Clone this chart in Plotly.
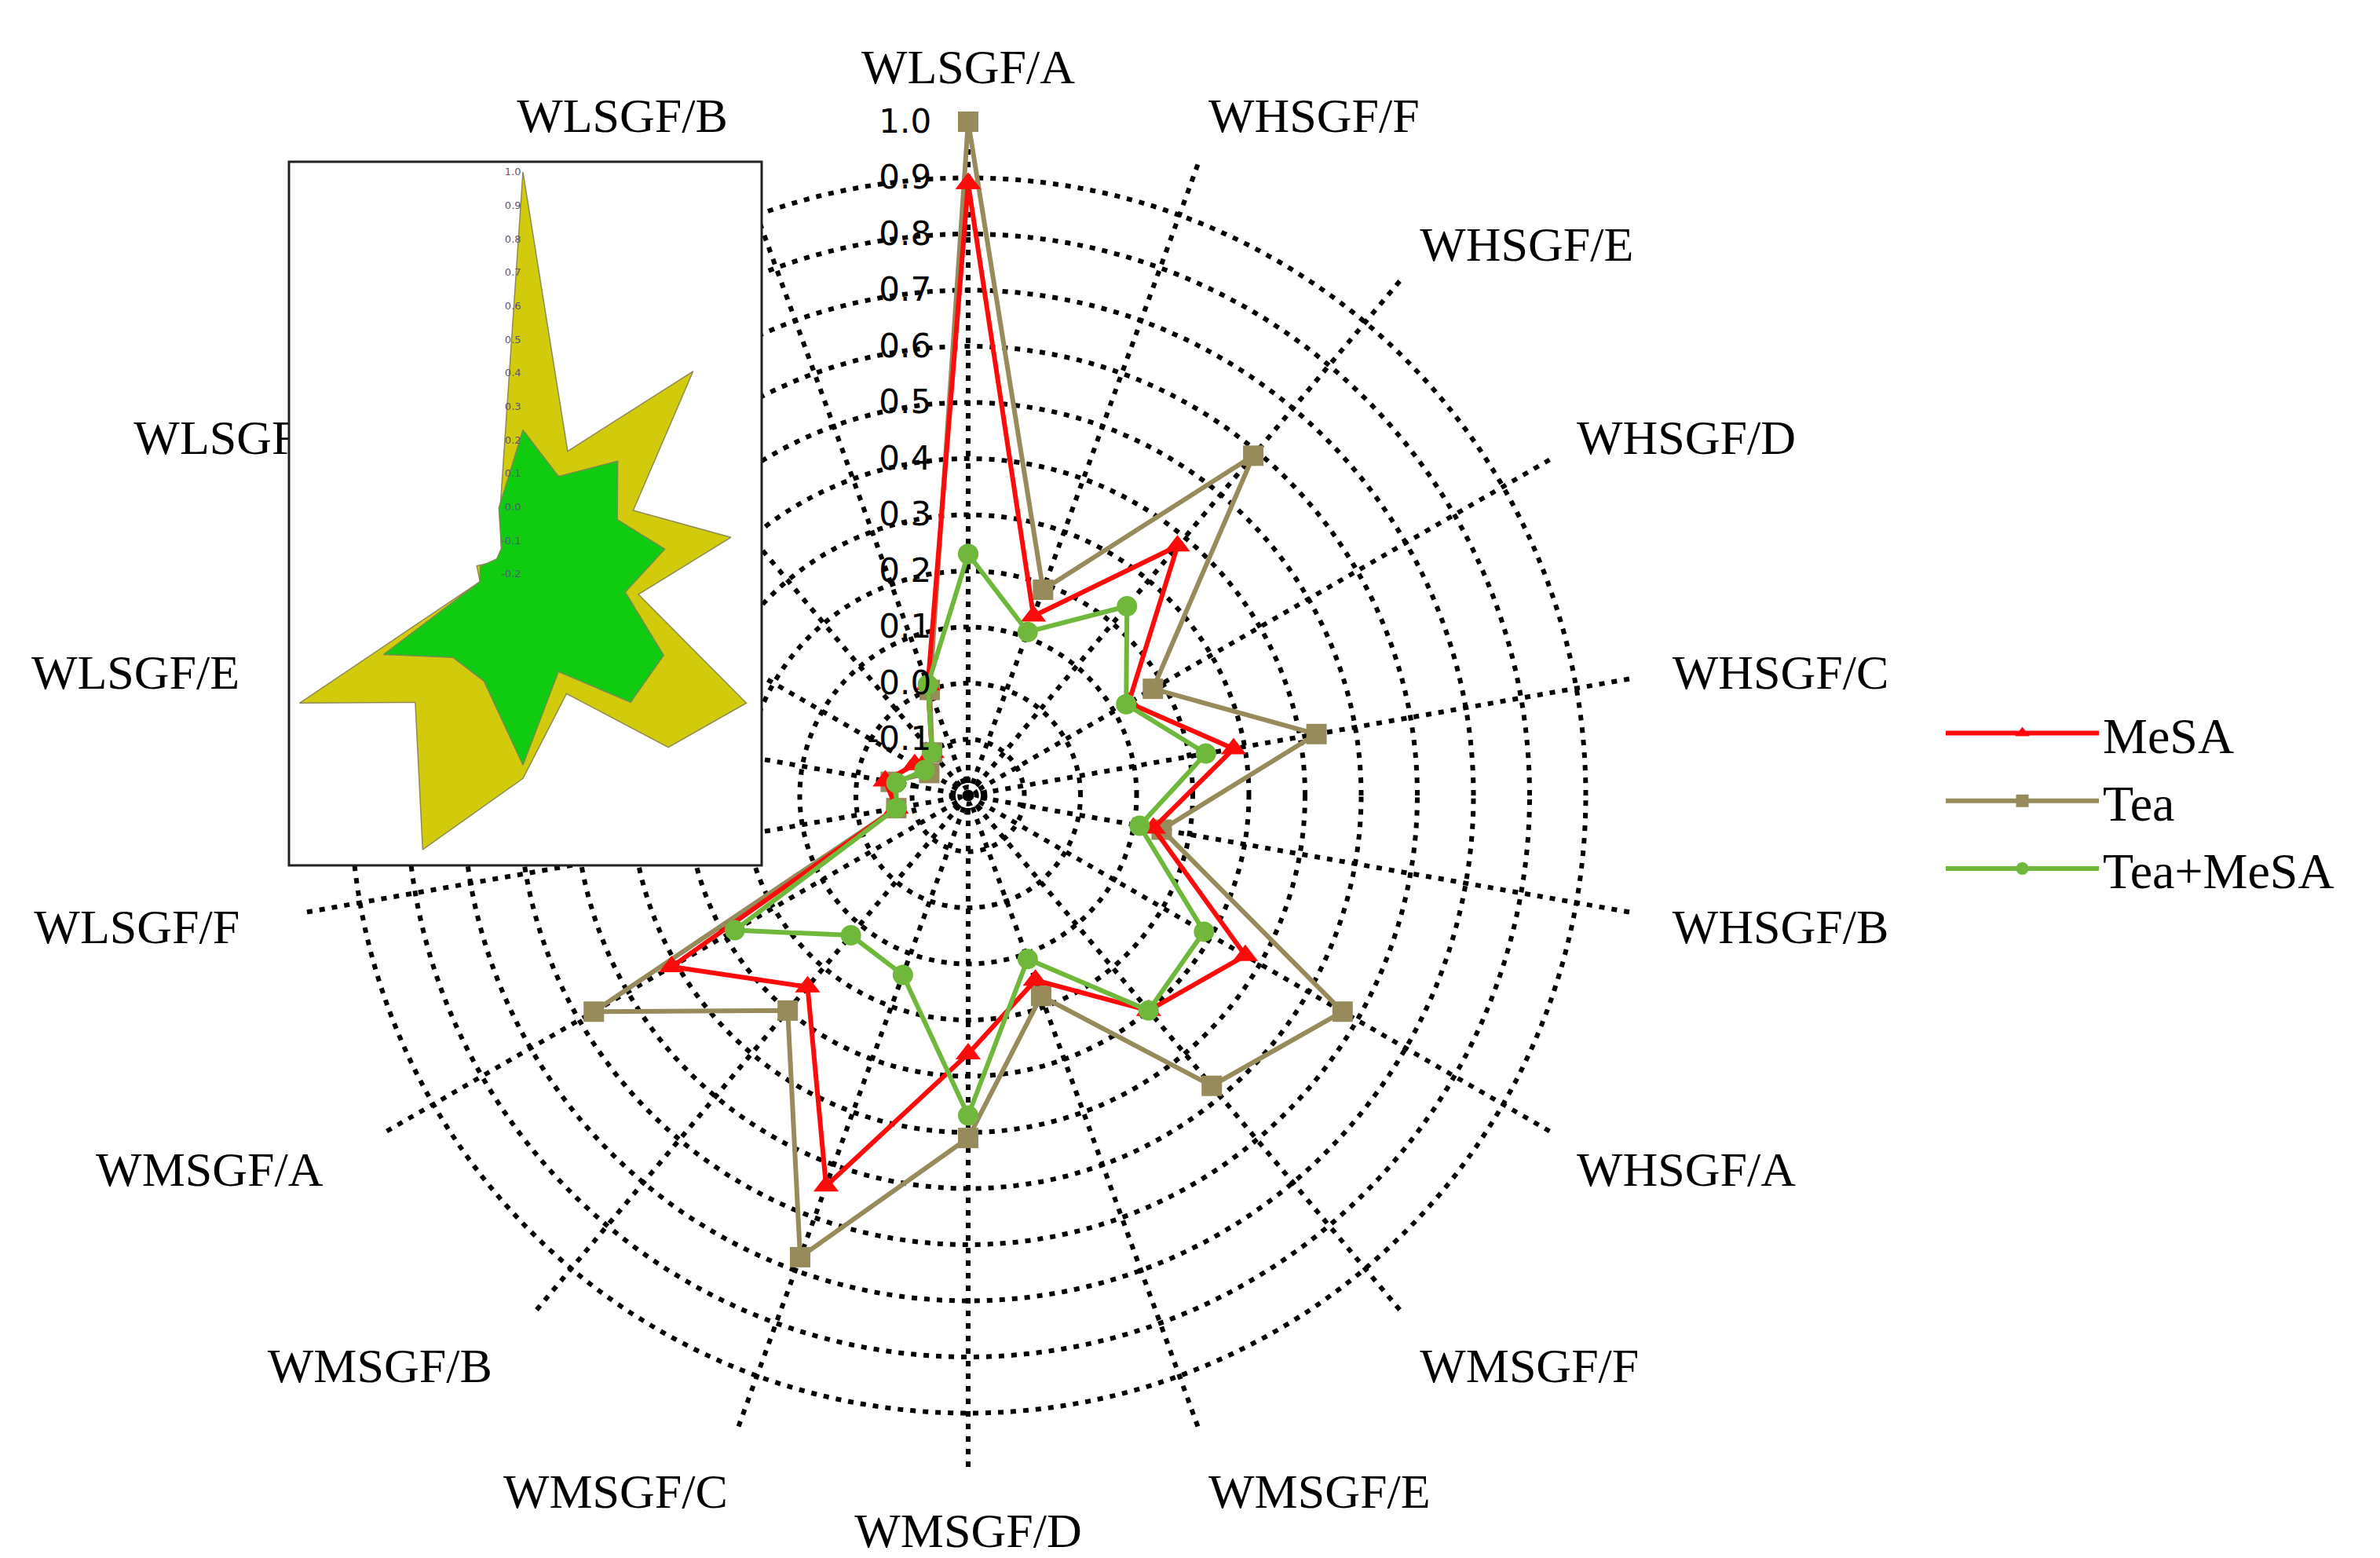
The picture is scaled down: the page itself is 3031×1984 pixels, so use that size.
import math
import plotly.graph_objects as go

# spokes, clockwise from the top
CATEGORIES = [
    "WLSGF/A", "WHSGF/F", "WHSGF/E", "WHSGF/D", "WHSGF/C", "WHSGF/B",
    "WHSGF/A", "WMSGF/F", "WMSGF/E", "WMSGF/D", "WMSGF/C", "WMSGF/B",
    "WMSGF/A", "WLSGF/F", "WLSGF/E", "WLSGF/D", "WLSGF/C", "WLSGF/B",
]
MESA = [0.89, 0.14, 0.38, 0.13, 0.28, 0.135, 0.37, 0.30, 0.15, 0.26, 0.54, 0.245,
        0.41, -0.07, -0.05, -0.09, -0.10, 0.01]
TEA = [1.0, 0.19, 0.59, 0.18, 0.43, 0.15, 0.57, 0.475, 0.18, 0.41, 0.675, 0.30,
       0.57, -0.07, -0.06, -0.12, -0.10, 0.0]
TEA_MESA = [0.23, 0.11, 0.24, 0.125, 0.23, 0.11, 0.285, 0.30, 0.11, 0.37, 0.14, 0.125,
            0.28, -0.07, -0.07, -0.11, -0.10, 0.01]

R_TICKS = [-0.1, 0.0, 0.1, 0.2, 0.3, 0.4, 0.5, 0.6, 0.7, 0.8, 0.9, 1.0]
INSET_TICKS = [-0.2, -0.1, 0.0, 0.1, 0.2, 0.3, 0.4, 0.5, 0.6, 0.7, 0.8, 0.9, 1.0]
R_MIN, R_MAX = -0.2, 1.0

W, H = 3031, 1984

# main radar geometry (pixels)
CX, CY, RAD = 1225, 1005, 858
# inset geometry (pixels)
BOX = (360, 198, 962, 1094)
ICX, ICY, IRAD_DATA, IRAD = 658, 723, 512, 615

RED = "#ff0a0a"
TEA_C = "#978a5b"
GREEN = "#6fb83c"
GRID_DASH = "7px,9px"
NBSP = "\u00a0"

# extra spacing on some spoke labels so they sit a little further out
LABEL_PAD_LEFT = {"WHSGF/C": 1, "WHSGF/B": 1}
LABEL_PAD_RIGHT = {"WMSGF/B": 2, "WMSGF/A": 3, "WLSGF/F": 3, "WLSGF/E": 3, "WLSGF/D": 1}


def closed(v):
    return list(v) + [v[0]]


def domain(cx, cy, r):
    return dict(x=[(cx - r) / W, (cx + r) / W], y=[1 - (cy + r) / H, 1 - (cy - r) / H])


cat_text = [NBSP * LABEL_PAD_LEFT.get(c, 0) + c + NBSP * LABEL_PAD_RIGHT.get(c, 0)
            for c in CATEGORIES]

cats = closed(CATEGORIES)
fig = go.Figure()

fig.add_trace(go.Scatterpolar(
    r=closed(TEA), theta=cats, name="Tea", mode="lines+markers", legendrank=2,
    line=dict(color=TEA_C, width=6), marker=dict(symbol="square", size=26, color=TEA_C),
))
fig.add_trace(go.Scatterpolar(
    r=closed(MESA), theta=cats, name="MeSA", mode="lines+markers", legendrank=1,
    line=dict(color=RED, width=6), marker=dict(symbol="triangle-up", size=28, color=RED),
))
fig.add_trace(go.Scatterpolar(
    r=closed(TEA_MESA), theta=cats, name="Tea+MeSA", mode="lines+markers", legendrank=3,
    line=dict(color=GREEN, width=6), marker=dict(symbol="circle", size=26, color=GREEN),
))

# inset: white card, then the filled Tea / Tea+MeSA shapes
unit = IRAD_DATA / (R_MAX - R_MIN)
inset_rmax = R_MIN + IRAD / unit
corners = [(BOX[0], BOX[1]), (BOX[2], BOX[1]), (BOX[2], BOX[3]), (BOX[0], BOX[3]), (BOX[0], BOX[1])]
box_r, box_t = [], []
for px, py in corners:
    dx, dy = px - ICX, ICY - py
    box_r.append(R_MIN + math.hypot(dx, dy) / unit)
    box_t.append(math.degrees(math.atan2(dx, dy)))
fig.add_trace(go.Scatterpolar(
    r=box_r, theta=box_t, subplot="polar2", mode="lines", fill="toself",
    fillcolor="white", line=dict(width=0, color="white"), showlegend=False, hoverinfo="skip",
))
step = 360 / len(CATEGORIES)
ang = closed([i * step for i in range(len(CATEGORIES))])
fig.add_trace(go.Scatterpolar(
    r=closed(TEA), theta=ang, subplot="polar2", mode="lines", fill="toself",
    fillcolor="#d2cb0c", line=dict(color="#8f8a55", width=1.5), showlegend=False,
))
fig.add_trace(go.Scatterpolar(
    r=closed(TEA_MESA), theta=ang, subplot="polar2", mode="lines", fill="toself",
    fillcolor="#10cc10", line=dict(color="#7a8a50", width=1.5), showlegend=False,
))

fig.update_layout(
    width=W, height=H, autosize=False,
    margin=dict(l=0, r=0, t=0, b=0),
    paper_bgcolor="white",
    polar=dict(
        domain=domain(CX, CY, RAD),
        bgcolor="white",
        radialaxis=dict(
            range=[R_MIN, R_MAX], angle=90, side="counterclockwise", tickangle=90,
            tickvals=R_TICKS + [-0.185, -0.17],
            ticktext=[f"{v:.1f}" + NBSP * 3 for v in R_TICKS] + ["", ""],
            showline=False, ticks="",
            tickfont=dict(family="DejaVu Sans", size=42, color="black"),
            gridcolor="black", gridwidth=6, griddash=GRID_DASH,
        ),
        angularaxis=dict(
            type="category", categoryarray=CATEGORIES, rotation=90, direction="clockwise",
            tickmode="array", tickvals=CATEGORIES, ticktext=cat_text,
            showline=False, ticks="outside", ticklen=24, tickcolor="rgba(0,0,0,0)",
            tickfont=dict(family="Liberation Serif", size=62, color="black"),
            gridcolor="black", gridwidth=6, griddash=GRID_DASH,
        ),
    ),
    polar2=dict(
        domain=domain(ICX, ICY, IRAD),
        bgcolor="rgba(0,0,0,0)",
        radialaxis=dict(
            range=[R_MIN, inset_rmax], angle=90, side="counterclockwise", tickangle=90,
            tickvals=INSET_TICKS, ticktext=[f"{v:.1f}" for v in INSET_TICKS],
            showline=False, ticks="", showgrid=False,
            tickfont=dict(family="DejaVu Sans", size=13, color="#55557a"),
        ),
        angularaxis=dict(
            type="linear", thetaunit="degrees", rotation=90, direction="clockwise",
            visible=False, showgrid=False,
        ),
    ),
    legend=dict(
        x=2465 / W, y=1 - 1012 / H, xanchor="left", yanchor="middle",
        font=dict(family="Liberation Serif", size=64, color="black"),
        itemwidth=195, bgcolor="rgba(0,0,0,0)",
    ),
    shapes=[dict(
        type="rect", xref="paper", yref="paper", layer="above",
        x0=BOX[0] / W, x1=BOX[2] / W, y0=1 - BOX[3] / H, y1=1 - BOX[1] / H,
        line=dict(color="#222222", width=3),
    )],
)

fig.write_html("out.html")
